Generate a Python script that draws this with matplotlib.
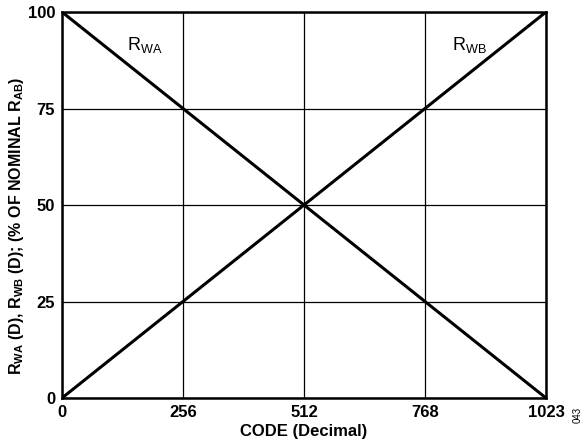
import matplotlib
matplotlib.use("Agg")
import matplotlib.pyplot as plt

plt.rcParams['font.family'] = ['Liberation Sans', 'DejaVu Sans']
plt.rcParams['mathtext.fontset'] = 'custom'
plt.rcParams['mathtext.rm'] = 'Liberation Sans'
plt.rcParams['mathtext.bf'] = 'Liberation Sans:bold'

codes = [0, 1023]
rwa = [100, 0]
rwb = [0, 100]
xticks = [0, 256, 512, 768, 1023]
yticks = [0, 25, 50, 75, 100]

fig = plt.figure(figsize=(5.87, 4.44), dpi=100)
ax = fig.add_axes([62/587, 1-398/444, (546-62)/587, (398-12)/444])
ax.plot(codes, rwa, color='black', lw=2.2)
ax.plot(codes, rwb, color='black', lw=2.2)
ax.set_xlim(0, 1023)
ax.set_ylim(0, 100)
ax.set_xticks(xticks)
ax.set_yticks(yticks)
ax.set_xticklabels([str(t) for t in xticks], fontweight='bold', fontsize=12)
ax.set_yticklabels([str(t) for t in yticks], fontweight='bold', fontsize=12)
ax.tick_params(length=0, pad=5)
ax.grid(True, color='black', lw=0.9)
ax.set_axisbelow(True)
for s in ax.spines.values():
    s.set_linewidth(1.8)
ax.set_xlabel('CODE (Decimal)', fontweight='bold', fontsize=12, labelpad=3)
fig.text(17/587, 1-226/444,
         r'R$_{\mathbf{WA}}$ (D), R$_{\mathbf{WB}}$ (D); (% OF NOMINAL R$_{\mathbf{AB}}$)',
         fontweight='bold', fontsize=11.5, rotation=90, ha='center', va='center')
ax.text(175, 91.5, r'R$_{\mathrm{WA}}$', fontsize=13, ha='center', va='center')
ax.text(862, 91.5, r'R$_{\mathrm{WB}}$', fontsize=13, ha='center', va='center')
fig.text(578/587, 1-415/444, '043', rotation=90, fontsize=7, ha='center', va='center')
fig.savefig('out.png', dpi=100)
